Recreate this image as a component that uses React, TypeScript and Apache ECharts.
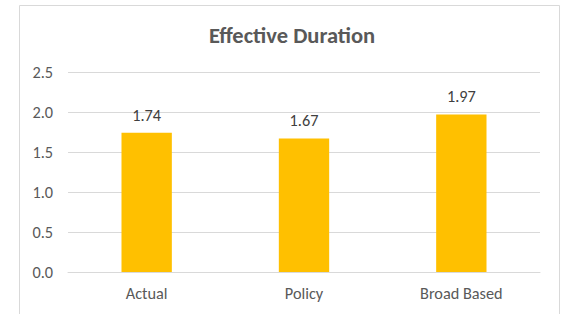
import React, { useEffect, useRef } from "react";
import * as echarts from "echarts";

const categories = ["Actual", "Policy", "Broad Based"];
const values = [1.74, 1.67, 1.97];
const yTicks = [0, 0.5, 1.0, 1.5, 2.0, 2.5];

export default function App() {
  const ref = useRef<HTMLDivElement>(null);
  useEffect(() => {
    if (!ref.current) return;
    const chart = echarts.init(ref.current, undefined, { renderer: "svg" });
    const font = "Calibri, Carlito, Lato, 'Liberation Sans', sans-serif";
    chart.setOption({
      animation: false,
      backgroundColor: "#ffffff",
      graphic: [
        {
          type: "rect",
          shape: { x: 19.5, y: 5.5, width: 540, height: 330 },
          style: { fill: "none", stroke: "#d9d9d9", lineWidth: 1 },
          silent: true,
        },
      ],
      title: {
        text: "Effective Duration",
        left: 287,
        textAlign: "center",
        top: 19,
        textStyle: { fontFamily: font, fontSize: 22.5, fontWeight: "bold", color: "#595959" },
      },
      grid: { left: 68, right: 22, top: 72, bottom: 42 },
      xAxis: {
        type: "category",
        data: categories,
        axisLine: { show: true, lineStyle: { color: "#d9d9d9" } },
        axisTick: { show: false },
        axisLabel: { color: "#595959", fontSize: 16.3, fontFamily: font, margin: 13 },
      },
      yAxis: {
        type: "value",
        min: yTicks[0],
        max: yTicks[yTicks.length - 1],
        interval: 0.5,
        axisLine: { show: false },
        axisTick: { show: false },
        splitLine: { lineStyle: { color: "#d9d9d9" } },
        axisLabel: {
          color: "#595959",
          fontSize: 16.3,
          fontFamily: font,
          margin: 15,
          formatter: (v: number) => v.toFixed(1),
        },
      },
      series: [
        {
          type: "bar",
          data: values,
          barWidth: "32%",
          itemStyle: { color: "#ffc000" },
          label: {
            show: true,
            position: "top",
            distance: 10,
            color: "#404040",
            fontSize: 16.3,
            fontFamily: font,
            formatter: (p: any) => p.value.toFixed(2),
          },
        },
      ],
    });
    return () => chart.dispose();
  }, []);
  return (
    <div
      ref={ref}
      style={{ position: "fixed", left: 0, top: 0, width: 562, height: 314 }}
    />
  );
}
